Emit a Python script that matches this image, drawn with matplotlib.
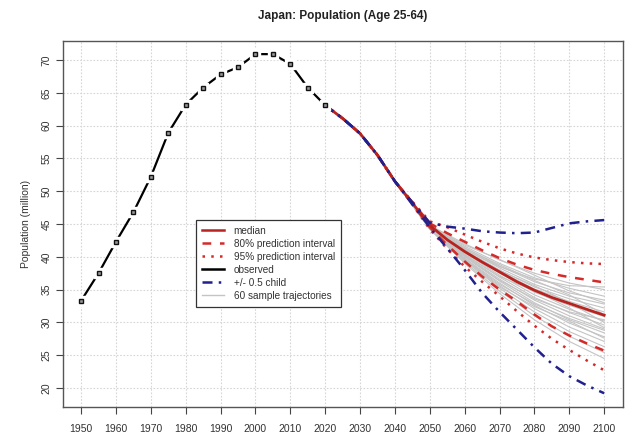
import matplotlib
matplotlib.use("Agg")
import matplotlib.pyplot as plt
from matplotlib.lines import Line2D

plt.rcParams['font.family'] = ['Liberation Sans', 'DejaVu Sans']

# ---------------- data ----------------
obs_years = [1950, 1955, 1960, 1965, 1970, 1975, 1980, 1985, 1990, 1995, 2000, 2005, 2010, 2015, 2020]
obs_vals = [33.3, 37.5, 42.3, 46.8, 52.2, 58.9, 63.2, 65.8, 67.8, 68.9, 70.9, 70.9, 69.4, 65.8, 63.1]

proj_years = [2020, 2025, 2030, 2035, 2040, 2045, 2050, 2055, 2060, 2065, 2070, 2075, 2080, 2085, 2090, 2095, 2100]
median = [63.1, 61.1, 58.8, 55.5, 51.5, 48.2, 44.8, 42.6, 40.8, 39.2, 37.7, 36.2, 34.9, 33.8, 32.9, 32.0, 31.1]
upper80 = [63.1, 61.1, 58.8, 55.5, 51.5, 48.3, 45.1, 43.6, 42.3, 41.0, 39.8, 38.8, 38.0, 37.4, 36.9, 36.5, 36.1]
lower80 = [63.1, 61.1, 58.8, 55.5, 51.5, 48.1, 44.5, 41.8, 39.3, 37.0, 35.0, 33.2, 31.2, 29.4, 28.0, 26.8, 25.7]
upper95 = [63.1, 61.1, 58.8, 55.5, 51.5, 48.4, 45.4, 44.5, 43.4, 42.3, 41.3, 40.5, 39.9, 39.5, 39.2, 39.0, 38.9]
lower95 = [63.1, 61.1, 58.8, 55.5, 51.5, 48.0, 44.2, 41.2, 38.5, 36.2, 34.0, 31.7, 29.5, 27.5, 25.8, 24.2, 22.7]
child_hi = [63.1, 61.1, 58.8, 55.5, 51.5, 48.3, 45.2, 44.6, 44.3, 43.9, 43.7, 43.6, 43.7, 44.4, 45.1, 45.4, 45.6]
child_lo = [63.1, 61.1, 58.8, 55.5, 51.5, 48.0, 44.5, 41.3, 38.0, 34.5, 31.6, 28.9, 26.2, 23.7, 21.8, 20.4, 19.2]

traj_years = [2040, 2050, 2060, 2070, 2080, 2090, 2100]
trajectories = [
    [51.5, 44.8, 42.0, 39.5, 37.5, 36.0, 35.0],
    [51.5, 44.7, 41.6, 39.0, 36.8, 35.2, 34.0],
    [51.5, 44.7, 41.4, 38.6, 36.2, 34.5, 33.4],
    [51.5, 44.6, 41.2, 38.3, 35.8, 34.0, 32.8],
    [51.5, 44.6, 41.0, 38.0, 35.4, 33.6, 32.2],
    [51.5, 44.6, 40.9, 37.8, 35.1, 33.2, 31.6],
    [51.5, 44.5, 40.7, 37.5, 34.6, 32.6, 30.9],
    [51.5, 44.5, 40.6, 37.2, 34.2, 32.0, 30.2],
    [51.5, 44.5, 40.4, 36.9, 33.8, 31.5, 29.6],
    [51.5, 44.4, 40.2, 36.6, 33.4, 31.0, 29.0],
    [51.5, 44.4, 40.0, 36.3, 33.0, 30.4, 28.4],
    [51.5, 44.4, 39.8, 36.0, 32.6, 29.9, 27.8],
    [51.5, 44.3, 39.6, 35.6, 32.1, 29.3, 27.1],
    [51.5, 44.3, 39.4, 35.2, 31.6, 28.6, 26.3],
    [51.5, 44.2, 39.2, 34.8, 31.0, 27.9, 25.4],
    [51.5, 44.2, 39.0, 34.4, 30.4, 27.1, 24.5],
    [51.5, 44.7, 41.8, 39.6, 37.2, 34.8, 33.0],
    [51.5, 44.6, 41.3, 38.8, 36.4, 34.2, 31.2],
    [51.5, 44.5, 40.8, 37.9, 35.6, 33.0, 30.0],
    [51.5, 44.5, 40.3, 37.0, 34.8, 32.2, 29.2],
    [51.5, 44.4, 40.1, 36.4, 33.6, 31.6, 30.4],
    [51.5, 44.3, 39.7, 35.8, 32.8, 30.6, 28.8],
    [51.5, 44.6, 41.1, 38.5, 36.6, 35.6, 35.4],
    [51.5, 44.3, 39.5, 35.4, 32.4, 30.2, 27.6],
]

x_ticks = list(range(1950, 2101, 10))
y_ticks = list(range(20, 71, 5))

title = "Japan: Population (Age 25-64)"
ylabel = "Population (million)"
legend_labels = ["median", "80% prediction interval", "95% prediction interval",
                 "observed", "+/- 0.5 child", "60 sample trajectories"]

# ---------------- style ----------------
RED_MED = "#b8231f"
RED = "#d42a2a"
BLUE = "#20208e"
GRAY = "#c4c4c4"

fig = plt.figure(figsize=(6.4, 4.34), dpi=100)
ax = fig.add_axes([0.0984, 0.0622, 0.8750, 0.8433])

ax.set_xlim(1944.8, 2105.4)
ax.set_ylim(17.1, 72.9)

ax.set_xticks(x_ticks)
ax.set_yticks(y_ticks)
ax.grid(True, color="#d6d6d6", linestyle=(0, (1.5, 1.5)), linewidth=0.8)
ax.set_axisbelow(True)

for t in trajectories:
    ax.plot(traj_years, t, color=GRAY, lw=0.8, zorder=2)

ax.plot(proj_years, upper95, color=RED, lw=1.8, linestyle=(0, (1, 2.5)), zorder=3)
ax.plot(proj_years, lower95, color=RED, lw=1.8, linestyle=(0, (1, 2.5)), zorder=3)
ax.plot(proj_years, upper80, color=RED, lw=1.8, linestyle=(0, (3.5, 3.5)), zorder=3)
ax.plot(proj_years, lower80, color=RED, lw=1.8, linestyle=(0, (3.5, 3.5)), zorder=3)
ax.plot(proj_years, median, color=RED_MED, lw=2.0, zorder=4)
ax.plot(proj_years, child_hi, color=BLUE, lw=1.8, linestyle=(0, (4, 2.5, 1, 2.5)), zorder=4)
ax.plot(proj_years, child_lo, color=BLUE, lw=1.8, linestyle=(0, (4, 2.5, 1, 2.5)), zorder=4)

# observed: line with gaps at points (R type="b")
ax.plot(obs_years, obs_vals, color="black", lw=1.6, zorder=5)
ax.plot(obs_years, obs_vals, linestyle="none", marker="s", markersize=6.5,
        markerfacecolor="white", markeredgecolor="white", zorder=6)
ax.plot(obs_years, obs_vals, linestyle="none", marker="s", markersize=3.2,
        markerfacecolor="#999999", markeredgecolor="#111111", markeredgewidth=1.0, zorder=7)

for sp in ax.spines.values():
    sp.set_color("#555555")
    sp.set_linewidth(1.0)

ax.tick_params(axis="both", direction="out", length=5, width=0.8, color="#444444",
               labelsize=7.5, labelcolor="#333333")
ax.tick_params(axis="x", pad=7)
ax.tick_params(axis="y", pad=3)
for lab in ax.get_yticklabels():
    lab.set_rotation(90)
    lab.set_va("center")

ax.set_ylabel(ylabel, fontsize=7.5, color="#333333", labelpad=8)
ax.set_title(title, fontsize=8.5, fontweight="bold", color="#222222", pad=16)

handles = [
    Line2D([], [], color=RED_MED, lw=1.8),
    Line2D([], [], color=RED, lw=1.8, linestyle=(0, (3.5, 3.5))),
    Line2D([], [], color=RED, lw=1.8, linestyle=(0, (1, 2.5))),
    Line2D([], [], color="black", lw=1.8),
    Line2D([], [], color=BLUE, lw=1.8, linestyle=(0, (4, 2.5, 1, 2.5))),
    Line2D([], [], color=GRAY, lw=1.0),
]
leg = ax.legend(handles, legend_labels, loc="lower left", bbox_to_anchor=(0.237, 0.274),
                borderaxespad=0, fontsize=7.2, frameon=True, fancybox=False,
                edgecolor="#333333", framealpha=1, handlelength=2.2, handletextpad=1.0,
                labelspacing=0.3, borderpad=0.6)
leg.get_frame().set_linewidth(0.9)
for txt in leg.get_texts():
    txt.set_color("#333333")

fig.savefig("out.png", dpi=100)
